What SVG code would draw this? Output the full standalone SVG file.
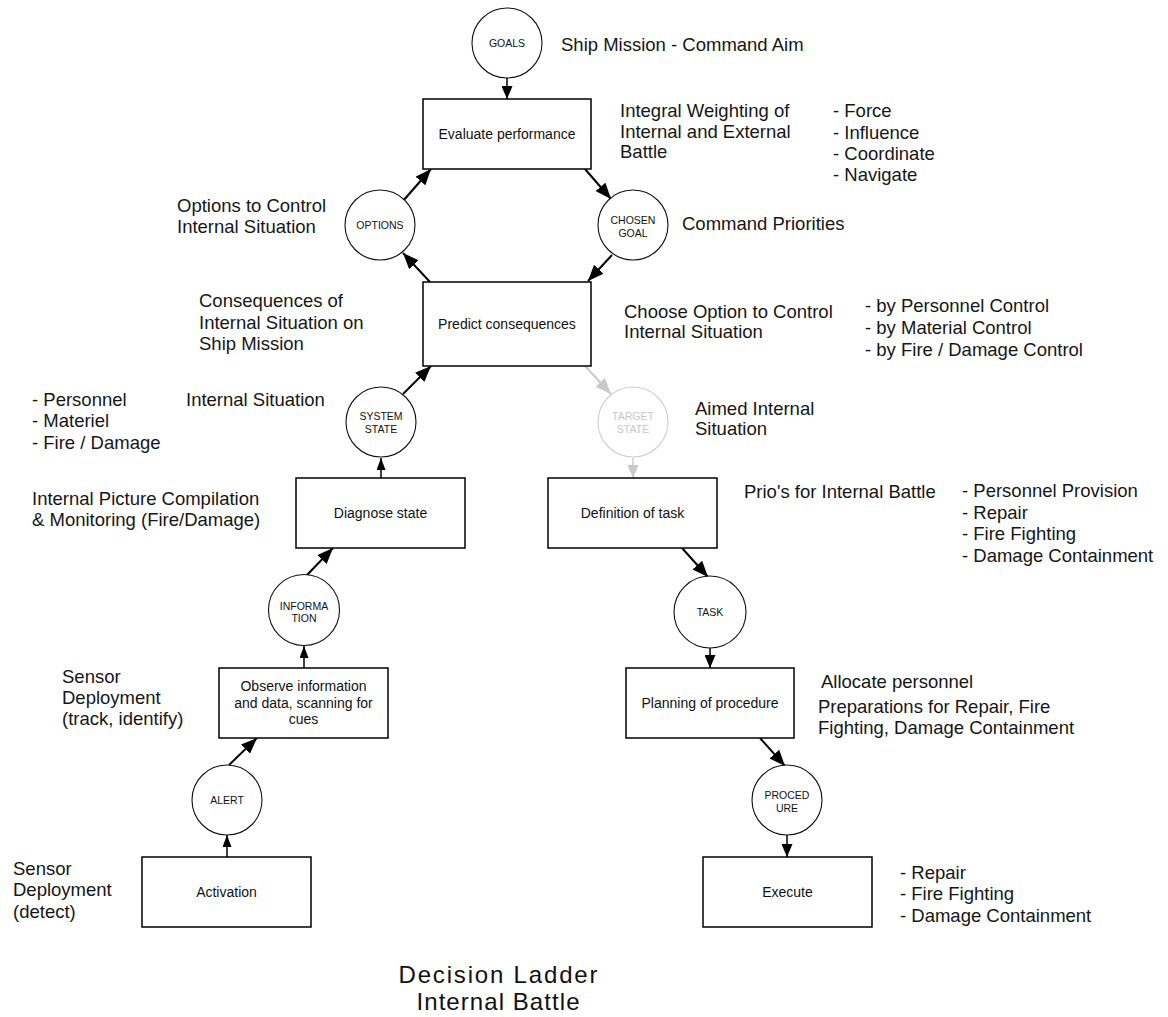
<svg xmlns="http://www.w3.org/2000/svg" width="1168" height="1017" viewBox="0 0 1168 1017">
<style>
  .box { fill: #fff; stroke: #000; stroke-width: 1.5; }
  .circ { fill: #fff; stroke: #111; stroke-width: 1.1; }
  .circ-g { fill: #fff; stroke: #cfcfcf; stroke-width: 1.1; }
  .nt { font-family: "Liberation Sans", Arial, sans-serif; font-size: 14px; fill: #111; text-anchor: middle; }
  .ct { font-family: "Liberation Sans", Arial, sans-serif; font-size: 10.5px; fill: #111; text-anchor: middle; }
  .ct-g { font-family: "Liberation Sans", Arial, sans-serif; font-size: 10.5px; fill: #c8c8c8; text-anchor: middle; }
  .st { font-family: "Liberation Sans", Arial, sans-serif; font-size: 18.5px; fill: #161616; }
  .title { font-family: "Liberation Sans", Arial, sans-serif; font-size: 24px; fill: #111; text-anchor: middle; }
  .edge { stroke: #000; stroke-width: 2; fill: none; }
  .edge-v { stroke: #000; stroke-width: 1.5; fill: none; }
  .edge-g { stroke: #cacaca; stroke-width: 2; fill: none; }
  .edge-gv { stroke: #cacaca; stroke-width: 1.5; fill: none; }
</style>
<defs>
  <marker id="al" markerUnits="userSpaceOnUse" markerWidth="16" markerHeight="13" refX="16" refY="6.5" orient="auto">
    <path d="M0,0 L16,6.5 L0,13 z" fill="#000"/>
  </marker>
  <marker id="alg" markerUnits="userSpaceOnUse" markerWidth="16" markerHeight="13" refX="16" refY="6.5" orient="auto">
    <path d="M0,0 L16,6.5 L0,13 z" fill="#cacaca"/>
  </marker>
  <marker id="am" markerUnits="userSpaceOnUse" markerWidth="13" markerHeight="11" refX="13" refY="5.5" orient="auto">
    <path d="M0,0 L13,5.5 L0,11 z" fill="#000"/>
  </marker>
  <marker id="amg" markerUnits="userSpaceOnUse" markerWidth="13" markerHeight="11" refX="13" refY="5.5" orient="auto">
    <path d="M0,0 L13,5.5 L0,11 z" fill="#cacaca"/>
  </marker>
  <marker id="as" markerUnits="userSpaceOnUse" markerWidth="12" markerHeight="9" refX="12" refY="4.5" orient="auto">
    <path d="M0,0 L12,4.5 L0,9 z" fill="#000"/>
  </marker>
</defs>

<g id="connectors">
  <line class="edge-v" x1="507" y1="78" x2="507" y2="99" marker-end="url(#am)"/>
  <line class="edge" x1="403" y1="201" x2="431" y2="169" marker-end="url(#al)"/>
  <line class="edge" x1="585" y1="169" x2="611" y2="199" marker-end="url(#al)"/>
  <line class="edge" x1="612" y1="255" x2="588" y2="281" marker-end="url(#al)"/>
  <line class="edge" x1="430" y1="282" x2="403" y2="253" marker-end="url(#al)"/>
  <line class="edge" x1="403" y1="394" x2="431" y2="366" marker-end="url(#al)"/>
  <line class="edge-g" x1="585" y1="366" x2="611" y2="394" marker-end="url(#alg)"/>
  <line class="edge-gv" x1="633" y1="458" x2="633" y2="478" marker-end="url(#amg)"/>
  <line class="edge-v" x1="381" y1="478" x2="381" y2="458" marker-end="url(#as)"/>
  <line class="edge" x1="307" y1="575" x2="333" y2="548" marker-end="url(#al)"/>
  <line class="edge-v" x1="304" y1="668" x2="304" y2="646" marker-end="url(#as)"/>
  <line class="edge" x1="229" y1="765" x2="257" y2="738" marker-end="url(#al)"/>
  <line class="edge-v" x1="227" y1="857" x2="227" y2="835" marker-end="url(#as)"/>
  <line class="edge" x1="682" y1="548" x2="708" y2="577" marker-end="url(#al)"/>
  <line class="edge-v" x1="710" y1="648" x2="710" y2="668" marker-end="url(#am)"/>
  <line class="edge" x1="760" y1="738" x2="785" y2="766" marker-end="url(#al)"/>
  <line class="edge-v" x1="787" y1="835" x2="787" y2="857" marker-end="url(#am)"/>
</g>

<g id="goals"><circle class="circ" cx="507" cy="43" r="35"/><text class="ct" x="507" y="47">GOALS</text></g>
<g id="evaluate"><rect class="box" x="423" y="99" width="168" height="70"/><text class="nt" x="507" y="139">Evaluate performance</text></g>
<g id="options"><circle class="circ" cx="380" cy="225" r="35"/><text class="ct" x="380" y="229">OPTIONS</text></g>
<g id="chosen-goal"><circle class="circ" cx="633" cy="225" r="35"/><text class="ct" x="633" y="224">CHOSEN</text><text class="ct" x="633" y="236.5">GOAL</text></g>
<g id="predict"><rect class="box" x="423" y="282" width="168" height="84"/><text class="nt" x="507" y="329">Predict consequences</text></g>
<g id="system-state"><circle class="circ" cx="381" cy="422" r="35"/><text class="ct" x="381" y="420">SYSTEM</text><text class="ct" x="381" y="433">STATE</text></g>
<g id="target-state"><circle class="circ-g" cx="633" cy="422" r="35"/><text class="ct-g" x="633" y="420">TARGET</text><text class="ct-g" x="633" y="433">STATE</text></g>
<g id="diagnose"><rect class="box" x="296" y="478" width="169" height="70"/><text class="nt" x="380.5" y="518">Diagnose state</text></g>
<g id="definition"><rect class="box" x="548" y="478" width="169" height="70"/><text class="nt" x="632.5" y="518">Definition of task</text></g>
<g id="information"><circle class="circ" cx="304" cy="610" r="35.5"/><text class="ct" x="304" y="610">INFORMA</text><text class="ct" x="304" y="622">TION</text></g>
<g id="task"><circle class="circ" cx="710" cy="612" r="36"/><text class="ct" x="710" y="616">TASK</text></g>
<g id="observe"><rect class="box" x="219" y="668" width="169" height="70"/><text class="nt" x="303.5" y="691">Observe information</text><text class="nt" x="303.5" y="708">and data, scanning for</text><text class="nt" x="303.5" y="724">cues</text></g>
<g id="planning"><rect class="box" x="626" y="668" width="168" height="70"/><text class="nt" x="710" y="708">Planning of procedure</text></g>
<g id="alert"><circle class="circ" cx="227" cy="800" r="35"/><text class="ct" x="227" y="804">ALERT</text></g>
<g id="procedure"><circle class="circ" cx="787" cy="800" r="35"/><text class="ct" x="787" y="799">PROCED</text><text class="ct" x="787" y="811.5">URE</text></g>
<g id="activation"><rect class="box" x="142" y="857" width="169" height="70"/><text class="nt" x="226.5" y="897">Activation</text></g>
<g id="execute"><rect class="box" x="703" y="857" width="169" height="70"/><text class="nt" x="787.5" y="897">Execute</text></g>

<g id="annotations">
  <text class="st" x="561" y="51">Ship Mission - Command Aim</text>
  <text class="st" x="620" y="117">Integral Weighting of</text>
  <text class="st" x="620" y="137.5">Internal and External</text>
  <text class="st" x="620" y="158">Battle</text>
  <text class="st" x="833" y="117">- Force</text>
  <text class="st" x="833" y="138.5">- Influence</text>
  <text class="st" x="833" y="160">- Coordinate</text>
  <text class="st" x="833" y="181">- Navigate</text>
  <text class="st" x="177" y="212">Options to Control</text>
  <text class="st" x="177" y="233">Internal Situation</text>
  <text class="st" x="682" y="230">Command Priorities</text>
  <text class="st" x="199" y="307">Consequences of</text>
  <text class="st" x="199" y="328.5">Internal Situation on</text>
  <text class="st" x="199" y="350">Ship Mission</text>
  <text class="st" x="624" y="318">Choose Option to Control</text>
  <text class="st" x="624" y="338">Internal Situation</text>
  <text class="st" x="865" y="312">- by Personnel Control</text>
  <text class="st" x="865" y="333.5">- by Material Control</text>
  <text class="st" x="865" y="356">- by Fire / Damage Control</text>
  <text class="st" x="32" y="406">- Personnel</text>
  <text class="st" x="32" y="427">- Materiel</text>
  <text class="st" x="32" y="448.5">- Fire / Damage</text>
  <text class="st" x="186" y="406">Internal Situation</text>
  <text class="st" x="695" y="415">Aimed Internal</text>
  <text class="st" x="695" y="435">Situation</text>
  <text class="st" x="32" y="505">Internal Picture Compilation</text>
  <text class="st" x="32" y="526">&amp; Monitoring (Fire/Damage)</text>
  <text class="st" x="744" y="498">Prio's for Internal Battle</text>
  <text class="st" x="962" y="497">- Personnel Provision</text>
  <text class="st" x="962" y="518.5">- Repair</text>
  <text class="st" x="962" y="540">- Fire Fighting</text>
  <text class="st" x="962" y="561.5">- Damage Containment</text>
  <text class="st" x="62" y="683">Sensor</text>
  <text class="st" x="62" y="704">Deployment</text>
  <text class="st" x="62" y="725">(track, identify)</text>
  <text class="st" x="821" y="688">Allocate personnel</text>
  <text class="st" x="818" y="713">Preparations for Repair, Fire</text>
  <text class="st" x="818" y="734">Fighting, Damage Containment</text>
  <text class="st" x="13" y="875">Sensor</text>
  <text class="st" x="13" y="896">Deployment</text>
  <text class="st" x="13" y="918">(detect)</text>
  <text class="st" x="900" y="879">- Repair</text>
  <text class="st" x="900" y="900">- Fire Fighting</text>
  <text class="st" x="900" y="922">- Damage Containment</text>
  <text class="title" x="498" y="983" textLength="199" lengthAdjust="spacing">Decision Ladder</text>
  <text class="title" x="498" y="1010" textLength="163" lengthAdjust="spacing">Internal Battle</text>
</g>
</svg>
